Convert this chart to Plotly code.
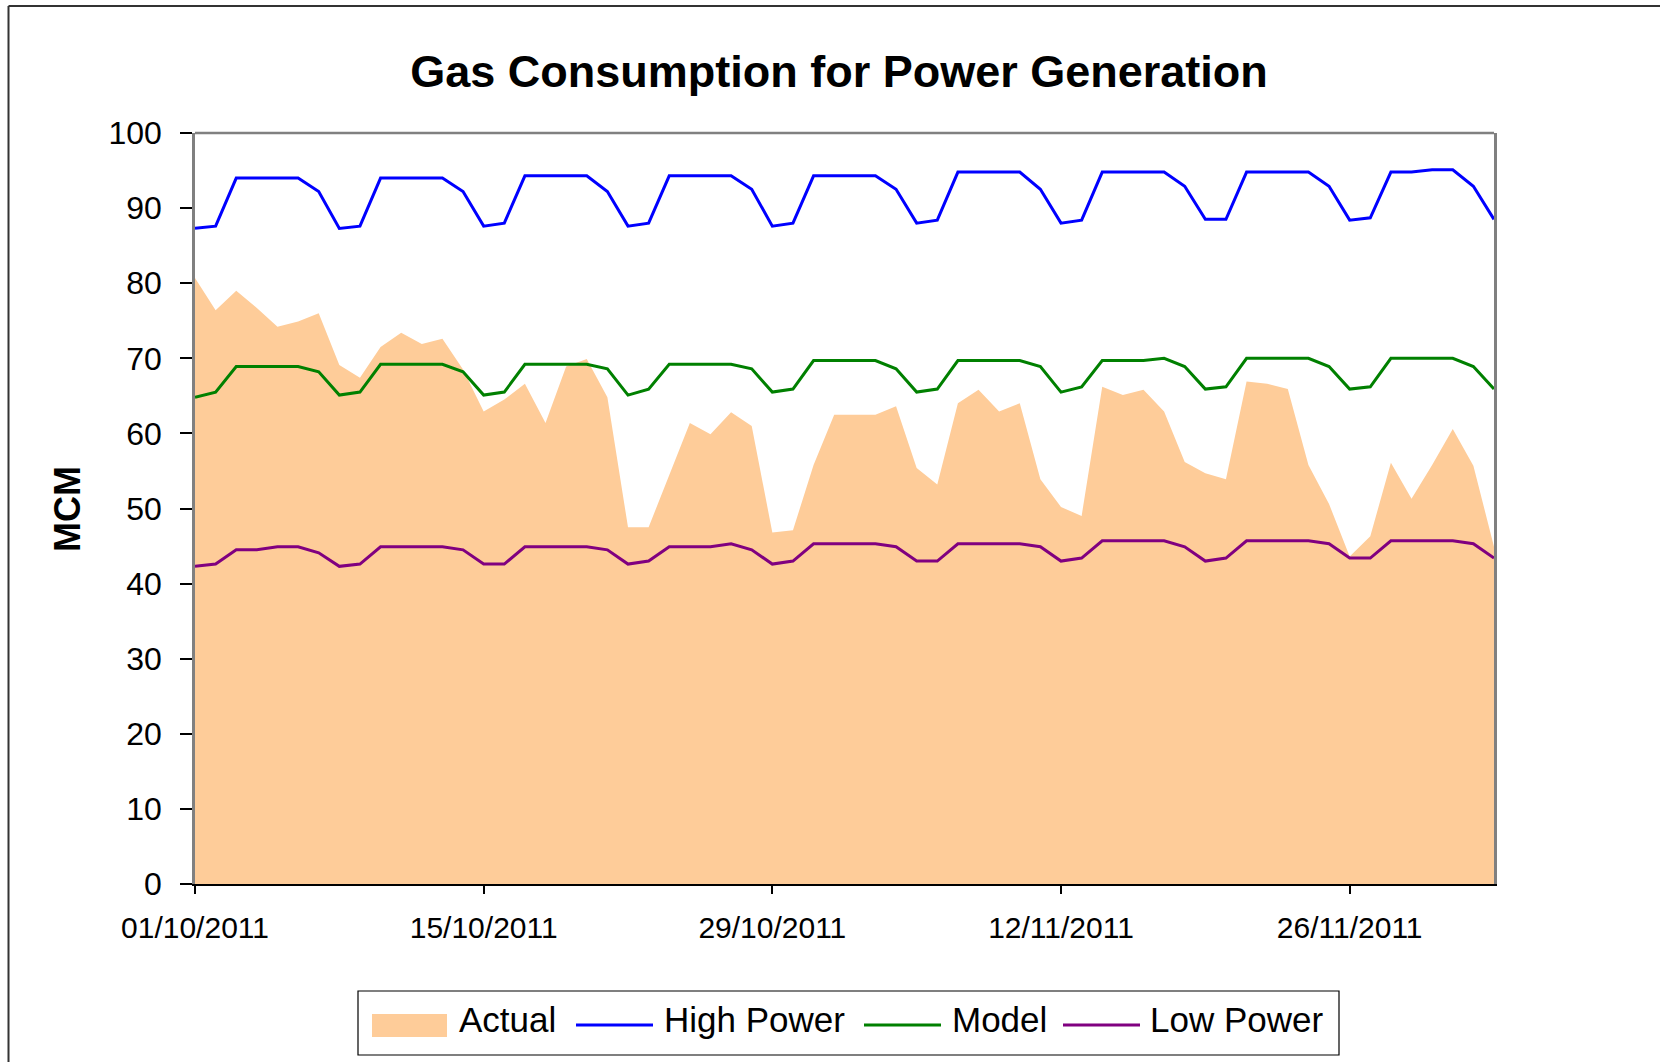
import plotly.graph_objects as go
import pandas as pd

# ---------------- data ----------------
dates = pd.date_range("2011-10-01", periods=64, freq="D")

actual = [80.7, 76.4, 79.0, 76.7, 74.2, 74.9, 76.0, 69.1, 67.4, 71.5,
          73.4, 71.9, 72.6, 68.5, 62.9, 64.5, 66.6, 61.4, 68.9, 69.9,
          64.8, 47.5, 47.5, 54.5, 61.4, 59.9, 62.8, 61.0, 46.8, 47.1,
          55.8, 62.5, 62.5, 62.5, 63.6, 55.4, 53.2, 64.0, 65.8, 62.9,
          64.0, 53.9, 50.2, 49.0, 66.2, 65.1, 65.8, 62.9, 56.2, 54.7,
          53.9, 66.9, 66.6, 65.9, 55.8, 50.6, 43.6, 46.3, 56.1, 51.3,
          55.8, 60.6, 55.7, 44.9]

high_power = [87.3, 87.6, 94.0, 94.0, 94.0, 94.0, 92.2, 87.3, 87.6, 94.0,
              94.0, 94.0, 94.0, 92.2, 87.6, 88.0, 94.3, 94.3, 94.3, 94.3,
              92.2, 87.6, 88.0, 94.3, 94.3, 94.3, 94.3, 92.5, 87.6, 88.0,
              94.3, 94.3, 94.3, 94.3, 92.5, 88.0, 88.4, 94.8, 94.8, 94.8,
              94.8, 92.5, 88.0, 88.4, 94.8, 94.8, 94.8, 94.8, 92.9, 88.5,
              88.5, 94.8, 94.8, 94.8, 94.8, 92.9, 88.4, 88.7, 94.8, 94.8,
              95.1, 95.1, 92.9, 88.5]

model = [64.8, 65.5, 68.9, 68.9, 68.9, 68.9, 68.2, 65.1, 65.5, 69.2,
         69.2, 69.2, 69.2, 68.2, 65.1, 65.5, 69.2, 69.2, 69.2, 69.2,
         68.6, 65.1, 65.9, 69.2, 69.2, 69.2, 69.2, 68.6, 65.5, 65.9,
         69.7, 69.7, 69.7, 69.7, 68.6, 65.5, 65.9, 69.7, 69.7, 69.7,
         69.7, 68.9, 65.5, 66.2, 69.7, 69.7, 69.7, 70.0, 68.9, 65.9,
         66.2, 70.0, 70.0, 70.0, 70.0, 68.9, 65.9, 66.2, 70.0, 70.0,
         70.0, 70.0, 68.9, 65.9]

low_power = [42.3, 42.6, 44.5, 44.5, 44.9, 44.9, 44.1, 42.3, 42.6, 44.9,
             44.9, 44.9, 44.9, 44.5, 42.6, 42.6, 44.9, 44.9, 44.9, 44.9,
             44.5, 42.6, 43.0, 44.9, 44.9, 44.9, 45.3, 44.5, 42.6, 43.0,
             45.3, 45.3, 45.3, 45.3, 44.9, 43.0, 43.0, 45.3, 45.3, 45.3,
             45.3, 44.9, 43.0, 43.4, 45.7, 45.7, 45.7, 45.7, 44.9, 43.0,
             43.4, 45.7, 45.7, 45.7, 45.7, 45.3, 43.4, 43.4, 45.7, 45.7,
             45.7, 45.7, 45.3, 43.4]

x_tick_vals = ["2011-10-01", "2011-10-15", "2011-10-29", "2011-11-12", "2011-11-26"]
x_tick_text = ["01/10/2011", "15/10/2011", "29/10/2011", "12/11/2011", "26/11/2011"]
y_tick_vals = list(range(0, 101, 10))

series_names = ["Actual", "High Power", "Model", "Low Power"]
colors = {"Actual": "#FECC99", "High Power": "#0000FF", "Model": "#008000", "Low Power": "#800080"}

# ---------------- layout geometry ----------------
W, H = 1660, 1062
ML, MR, MT, MB = 195, 166, 133, 178
PW = W - ML - MR
PH = H - MT - MB
FONT = "Liberation Sans, Arial, Helvetica, sans-serif"


def px(xp):
    return (xp - ML) / PW


def py(yp):
    return (H - MB - yp) / PH


fig = go.Figure()

fig.add_trace(go.Scatter(x=dates, y=actual, name="Actual", mode="lines",
                         line=dict(width=0, color=colors["Actual"]),
                         fill="tozeroy", fillcolor=colors["Actual"]))
for nm, vals in [("High Power", high_power), ("Model", model), ("Low Power", low_power)]:
    fig.add_trace(go.Scatter(x=dates, y=vals, name=nm, mode="lines",
                             line=dict(width=3, color=colors[nm])))

fig.update_layout(
    width=W, height=H,
    margin=dict(l=ML, r=MR, t=MT, b=MB),
    paper_bgcolor="white", plot_bgcolor="white",
    showlegend=False,
    font=dict(family=FONT, color="black"),
    title=dict(text="<b>Gas Consumption for Power Generation</b>",
               x=839 / W, xref="container", xanchor="center",
               y=1 - 71 / H, yref="container", yanchor="middle",
               font=dict(size=45, family=FONT, color="black")),
)

fig.update_xaxes(
    type="date",
    range=[dates[0], dates[-1]],
    tickvals=x_tick_vals, ticktext=x_tick_text,
    ticks="outside", ticklen=8, tickwidth=1.5, tickcolor="black",
    tickfont=dict(size=30, family=FONT, color="black"),
    showline=True, linecolor="black", linewidth=2,
    showgrid=False, zeroline=False,
    ticklabelstandoff=8,
)
fig.update_yaxes(
    range=[0, 100],
    tickvals=y_tick_vals,
    ticks="outside", ticklen=12, tickwidth=1.5, tickcolor="black",
    tickfont=dict(size=32, family=FONT, color="black"),
    showline=True, linecolor="#808080", linewidth=2.5, mirror=True,
    showgrid=False, zeroline=False,
    ticklabelstandoff=12,
)

shapes = []
# top frame line of plot area
shapes.append(dict(type="line", xref="paper", yref="paper", x0=0, x1=1, y0=1, y1=1,
                   line=dict(color="#808080", width=2.5)))
# outer chart border (top & left visible)
shapes.append(dict(type="line", xref="paper", yref="paper", x0=px(8.5), x1=px(W + 5),
                   y0=py(6), y1=py(6), line=dict(color="#333333", width=2)))
shapes.append(dict(type="line", xref="paper", yref="paper", x0=px(8.5), x1=px(8.5),
                   y0=py(6), y1=py(H + 5), line=dict(color="#333333", width=2)))

# manual legend
shapes.append(dict(type="rect", xref="paper", yref="paper", x0=px(358), x1=px(1339),
                   y0=py(991), y1=py(1055), line=dict(color="black", width=1.2),
                   fillcolor="white"))
shapes.append(dict(type="rect", xref="paper", yref="paper", x0=px(372), x1=px(447),
                   y0=py(1014), y1=py(1037), line=dict(width=0),
                   fillcolor=colors["Actual"]))
legend_lines = [("High Power", 576, 653), ("Model", 864, 941), ("Low Power", 1063, 1140)]
for nm, a, b in legend_lines:
    shapes.append(dict(type="line", xref="paper", yref="paper", x0=px(a), x1=px(b),
                       y0=py(1025), y1=py(1025), line=dict(color=colors[nm], width=3)))

annotations = []
legend_text_x = {"Actual": 457, "High Power": 662, "Model": 950, "Low Power": 1148}
for nm in series_names:
    annotations.append(dict(text=nm, xref="paper", yref="paper", x=px(legend_text_x[nm]),
                            y=py(1019), xanchor="left", yanchor="middle", showarrow=False,
                            font=dict(size=35, family=FONT, color="black")))
annotations.append(dict(text="<b>MCM</b>", xref="paper", yref="paper", x=px(67), y=py(509),
                        xanchor="center", yanchor="middle", showarrow=False, textangle=-90,
                        font=dict(size=36, family=FONT, color="black")))

fig.update_layout(shapes=shapes, annotations=annotations)

fig.write_html("out.html",
               config={"displayModeBar": False},
               post_script="document.body.style.margin='0';document.body.style.overflow='hidden';")
